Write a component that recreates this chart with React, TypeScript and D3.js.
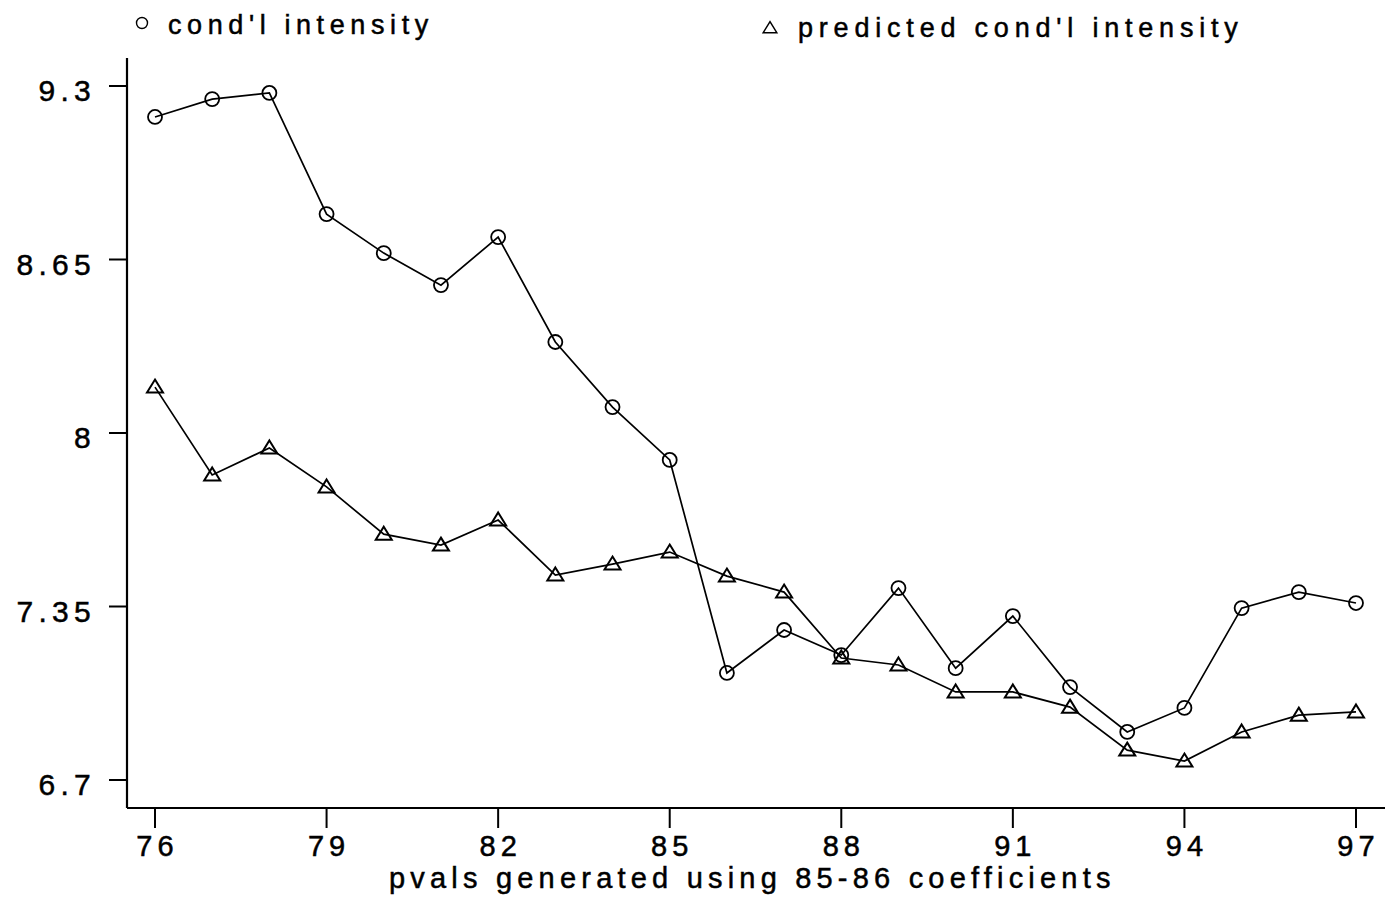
import React from "react";
import * as d3 from "d3";

const years = [76, 77, 78, 79, 80, 81, 82, 83, 84, 85, 86, 87, 88, 89, 90, 91, 92, 93, 94, 95, 96, 97];
const condIntensity = [9.184, 9.251, 9.274, 8.82, 8.674, 8.554, 8.734, 8.341, 8.097, 7.899, 7.101, 7.262, 7.168, 7.419, 7.119, 7.314, 7.048, 6.88, 6.97, 7.344, 7.404, 7.363];
const predictedIntensity = [8.172, 7.843, 7.944, 7.798, 7.621, 7.58, 7.674, 7.468, 7.509, 7.554, 7.464, 7.404, 7.157, 7.131, 7.03, 7.03, 6.973, 6.812, 6.771, 6.88, 6.943, 6.955];
const xTicks = [76, 79, 82, 85, 88, 91, 94, 97];
const yTicks = [6.7, 7.35, 8, 8.65, 9.3];
const yTickLabels = ["6.7", "7.35", "8", "8.65", "9.3"];
const xTitle = "pvals generated using 85-86 coefficients";
const legendLabels = ["cond'l intensity", "predicted cond'l intensity"];

const W = 1385;
const H = 897;
const FONT = "'Liberation Sans', Arial, Helvetica, sans-serif";

export default function App() {
  const x = d3.scaleLinear().domain([76, 97]).range([155, 1356]);
  const y = d3.scaleLinear().domain([6.7, 9.3]).range([780, 86]);
  const axisX = 127;
  const axisY = 808;

  const line = d3
    .line<number>()
    .x((_, i) => x(years[i]))
    .y((d) => y(d));

  const tri = (cx: number, cy: number, s = 1) =>
    `M${cx},${cy - 7.5 * s}L${cx + 8 * s},${cy + 5.5 * s}L${cx - 8 * s},${cy + 5.5 * s}Z`;

  const stroke = "#000";
  const textStroke = { stroke: "#000", strokeWidth: 0.5 };
  return (
    <svg
      width={W}
      height={H}
      style={{ position: "absolute", left: 0, top: 0, background: "#fff" }}
      fontFamily={FONT}
    >
      <rect x={0} y={0} width={W} height={H} fill="#fff" />
      {/* legend */}
      <circle cx={142} cy={23} r={5.5} fill="none" stroke={stroke} strokeWidth={1.4} />
      <text x={168} y={34} fontSize={27} letterSpacing={5.6} fill="#000" {...textStroke}>
        {legendLabels[0]}
      </text>
      <path d={tri(770, 28, 0.85)} fill="none" stroke={stroke} strokeWidth={1.5} />
      <text x={798} y={37} fontSize={27} letterSpacing={5.8} fill="#000" {...textStroke}>
        {legendLabels[1]}
      </text>

      {/* axes */}
      <line x1={axisX} y1={58} x2={axisX} y2={axisY} stroke={stroke} strokeWidth={2.2} />
      <line x1={axisX} y1={axisY} x2={W} y2={axisY} stroke={stroke} strokeWidth={2.2} />
      {yTicks.map((t, i) => (
        <g key={"y" + t}>
          <line x1={axisX - 18} x2={axisX} y1={y(t)} y2={y(t)} stroke={stroke} strokeWidth={2} />
          <text x={96} y={y(t) + 15} fontSize={30} letterSpacing={5.3} textAnchor="end" fill="#000" {...textStroke}>
            {yTickLabels[i]}
          </text>
        </g>
      ))}
      {xTicks.map((t) => (
        <g key={"x" + t}>
          <line x1={x(t)} x2={x(t)} y1={axisY} y2={axisY + 20} stroke={stroke} strokeWidth={2} />
          <text x={x(t) + 2.5} y={856} fontSize={29} letterSpacing={5} textAnchor="middle" fill="#000" {...textStroke}>
            {String(t)}
          </text>
        </g>
      ))}
      <text x={389} y={888} fontSize={29} letterSpacing={5.2} fill="#000" {...textStroke}>
        {xTitle}
      </text>

      {/* series */}
      <path d={line(condIntensity) || ""} fill="none" stroke={stroke} strokeWidth={1.7} />
      <path d={line(predictedIntensity) || ""} fill="none" stroke={stroke} strokeWidth={1.7} />
      {condIntensity.map((v, i) => (
        <circle key={"c" + i} cx={x(years[i])} cy={y(v)} r={7} fill="none" stroke={stroke} strokeWidth={1.8} />
      ))}
      {predictedIntensity.map((v, i) => (
        <path key={"t" + i} d={tri(x(years[i]), y(v))} fill="none" stroke={stroke} strokeWidth={2} />
      ))}
    </svg>
  );
}
